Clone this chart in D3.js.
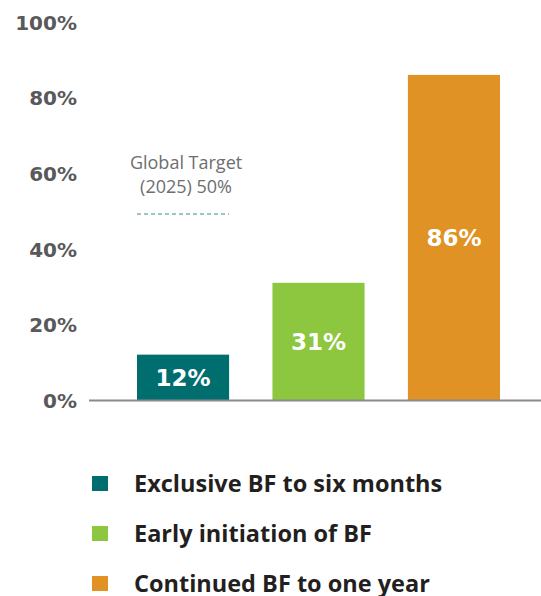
<!DOCTYPE html>
<html>
<head>
<meta charset="utf-8">
<script src="https://cdn.jsdelivr.net/npm/d3@7"></script>
<style>
  body { margin: 0; background: #fff; }
  svg { display: block; }
</style>
</head>
<body>
<div id="chart"></div>
<script>
// chart data
var categories = ['Exclusive BF to six months', 'Early initiation of BF', 'Continued BF to one year']
var values = [12, 31, 86]
var colors = ['#006d6f', '#8dc63f', '#e09224']
var yTicks = [0, 20, 40, 60, 80, 100]
var target = 50
var targetLabel = ['Global Target', '(2025) 50%']

var width = 541
var height = 596

var svg = d3.select('#chart')
  .append('svg')
  .attr('width', width)
  .attr('height', height)

var y = d3.scaleLinear()
  .domain([0, 100])
  .range([400, 22])

var x = d3.scaleBand()
  .domain(categories)
  .range([137, 500])
  .paddingInner(0.32)
  .paddingOuter(0)

// y tick labels only, no axis line
var yAxis = svg.append('g')
  .attr('transform', 'translate(77,0)')
  .call(d3.axisLeft(y).tickValues(yTicks).tickSize(0).tickPadding(0).tickFormat(function (d) { return d + '%' }))
yAxis.select('.domain').remove()
yAxis.selectAll('text')
  .attr('font-family', 'DejaVu Sans, sans-serif')
  .attr('font-weight', 'bold')
  .attr('font-size', 20)
  .attr('fill', '#58595b')
  .attr('dy', '0.36em')

svg.selectAll('rect.bar')
  .data(values)
  .enter()
  .append('rect')
  .attr('class', 'bar')
  .attr('x', function (d, i) { return x(categories[i]) })
  .attr('y', function (d) { return y(d) })
  .attr('width', x.bandwidth())
  .attr('height', function (d) { return y(0) - y(d) })
  .attr('fill', function (d, i) { return colors[i] })

svg.selectAll('text.val')
  .data(values)
  .enter()
  .append('text')
  .attr('class', 'val')
  .attr('x', function (d, i) { return x(categories[i]) + x.bandwidth() / 2 })
  .attr('y', function (d) { return (y(d) + y(0)) / 2 })
  .attr('dy', '0.36em')
  .attr('text-anchor', 'middle')
  .attr('font-family', 'DejaVu Sans, sans-serif')
  .attr('font-weight', 'bold')
  .attr('font-size', 23)
  .attr('fill', '#fff')
  .text(function (d) { return d + '%' })

// baseline
svg.append('line')
  .attr('x1', 89)
  .attr('x2', width)
  .attr('y1', y(0) + 0.5)
  .attr('y2', y(0) + 0.5)
  .attr('stroke', '#8a8a8a')
  .attr('stroke-width', 2)

// global target marker
var tx = x(categories[0])
var cx = tx + x.bandwidth() / 2
svg.append('line')
  .attr('x1', tx)
  .attr('x2', tx + x.bandwidth())
  .attr('y1', y(target) + 3)
  .attr('y2', y(target) + 3)
  .attr('stroke', '#3a8f94')
  .attr('stroke-width', 1.2)
  .attr('stroke-dasharray', '4,3')

svg.selectAll('text.target')
  .data(targetLabel)
  .enter()
  .append('text')
  .attr('class', 'target')
  .attr('x', cx + 3)
  .attr('y', function (d, i) { return 169 + i * 24 })
  .attr('text-anchor', 'middle')
  .attr('font-family', 'Open Sans, sans-serif')
  .attr('font-size', 18)
  .attr('fill', '#6d6e71')
  .text(function (d) { return d })

// legend
var legend = svg.selectAll('g.legend')
  .data(categories)
  .enter()
  .append('g')
  .attr('class', 'legend')
  .attr('transform', function (d, i) { return 'translate(0,' + (484 + i * 50) + ')' })

legend.append('rect')
  .attr('x', 92)
  .attr('y', -8)
  .attr('width', 16)
  .attr('height', 15)
  .attr('fill', function (d, i) { return colors[i] })

legend.append('text')
  .attr('x', 134)
  .attr('y', 0)
  .attr('dy', '0.36em')
  .attr('font-family', 'Open Sans, sans-serif')
  .attr('font-weight', 'bold')
  .attr('font-size', 23.5)
  .attr('fill', '#231f20')
  .text(function (d) { return d })
</script>
</body>
</html>
